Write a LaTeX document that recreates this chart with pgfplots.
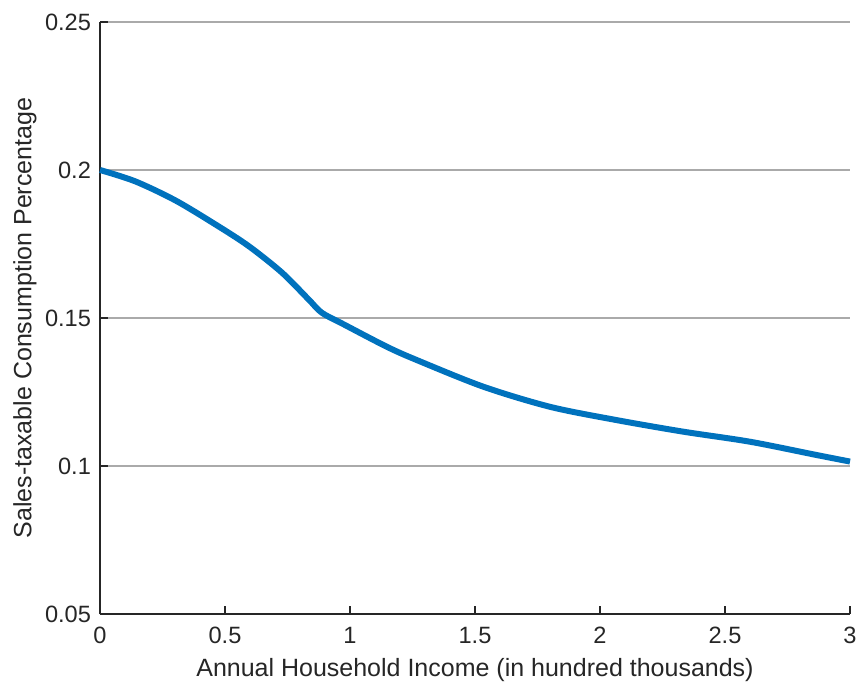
\documentclass[border=0pt]{standalone}
\usepackage{fontspec}
\setmainfont{Liberation Sans}
\usepackage{pgfplots}
\pgfplotsset{compat=1.18}
\definecolor{mblue}{RGB}{0,114,189}
\definecolor{axgray}{RGB}{38,38,38}
\definecolor{grd}{RGB}{170,170,170}
\begin{document}
\begin{tikzpicture}
\begin{axis}[
  scale only axis,
  width=375pt, height=296pt,
  xmin=0, xmax=3, ymin=0.05, ymax=0.25,
  axis x line=bottom, axis y line=left,
  axis line style={-, axgray, line width=0.8pt},
  xtick={0,0.5,1,1.5,2,2.5,3},
  ytick={0.05,0.1,0.15,0.2,0.25},
  tick style={axgray, line width=0.8pt},
  major tick length=4pt,
  tick align=inside,
  ymajorgrids,
  grid style={grd, line width=0.9pt},
  /pgf/number format/assume math mode=true,
  yticklabel style={xshift=-1pt, /pgf/number format/.cd, fixed, precision=2},
  xticklabel style={yshift=-3pt, /pgf/number format/.cd, fixed, precision=1},
  tick label style={font=\fontsize{11.8}{13}\selectfont, text=axgray},
  label style={font=\fontsize{12.5}{14}\selectfont, text=axgray},
  xlabel={Annual Household Income (in hundred thousands)},
  ylabel={Sales-taxable Consumption Percentage},
  xlabel style={at={(axis description cs:0.5,-0.0946)}, anchor=center},
  ylabel style={at={(axis description cs:-0.1,0.5)}, anchor=center},
  clip=false,
]
\addplot[mblue, line width=3pt, smooth, tension=0.5] coordinates {
(0,0.2)
(0.14,0.1962)
(0.3,0.1898)
(0.46,0.1817)
(0.593,0.1744)
(0.727,0.1654)
(0.833,0.1564)
(0.887,0.1518)
(0.967,0.1482)
(1.147,0.1403)
(1.267,0.1358)
(1.533,0.1268)
(1.8,0.1200)
(2.067,0.1155)
(2.333,0.1116)
(2.6,0.1082)
(2.867,0.1037)
(3.0,0.1015)
};
\end{axis}
\pgfresetboundingbox
\path[use as bounding box] ([shift={(-50pt,-36pt)}]current axis.south west) rectangle ([shift={(8pt,11pt)}]current axis.north east);
\end{tikzpicture}
\end{document}
